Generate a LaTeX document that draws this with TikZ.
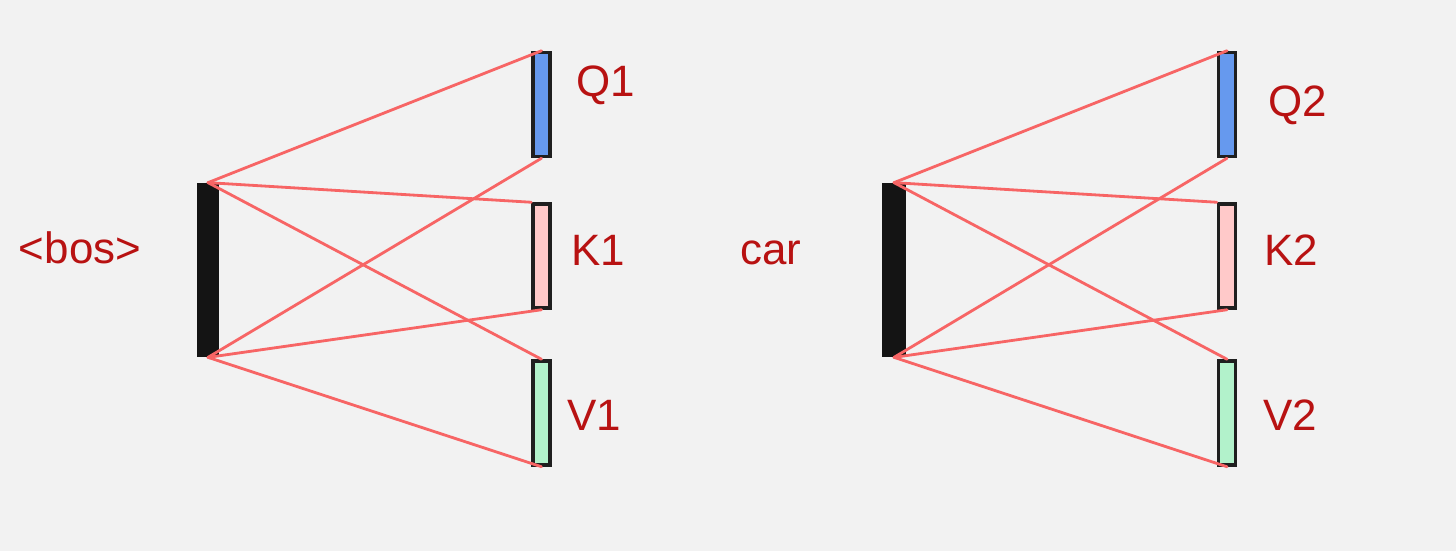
\documentclass[tikz,border=0pt]{standalone}
\usepackage{fontspec}
\setmainfont{Liberation Sans}
\usepackage{xcolor}
\usepackage{tikz}
\definecolor{paper}{HTML}{F2F2F2}
\definecolor{wirered}{HTML}{F76565}
\definecolor{inkred}{HTML}{B81212}
\definecolor{qblue}{HTML}{6699EE}
\definecolor{kpink}{HTML}{FFC9C9}
\definecolor{vgreen}{HTML}{B2F2CB}

\begin{document}
\begin{tikzpicture}[x=0.02cm, y=-0.02cm,
        tokbar/.style={draw=black!92, fill=black!92, line width=1pt,
          minimum width=0.4cm, minimum height=3.46cm, inner sep=0pt},
        vecbox/.style={draw=black!88, line width=2pt,
          minimum width=0.34cm, minimum height=2.08cm, inner sep=0pt},
        wire/.style={draw=wirered, line width=1.6pt, line cap=round},
        lbl/.style={text=inkred, font=\fontsize{25}{29}\selectfont},
      ]
      \fill[paper] (0,0) rectangle (1456,551);
      \useasboundingbox (0,0) rectangle (1456,551);

      % first token
      \node[tokbar] (bos) at (208,270) {};
      \node[vecbox, fill=qblue] (q1) at (541.5,104.5) {};
      \node[vecbox, fill=kpink] (k1) at (541.5,256) {};
      \node[vecbox, fill=vgreen] (v1) at (541.5,413) {};
      \node[lbl] (boslbl) at (80,248) {<bos>};
      \node[lbl] (q1lbl) at (606,85) {Q1};
      \node[lbl] (k1lbl) at (598,250) {K1};
      \node[lbl] (v1lbl) at (594,415) {V1};
      \draw[wire] (bos.north) -- (q1.north);
      \draw[wire] (bos.north) -- (k1.north west);
      \draw[wire] (bos.north) -- (v1.north);
      \draw[wire] (bos.south) -- (q1.south);
      \draw[wire] (bos.south) -- (k1.south);
      \draw[wire] (bos.south) -- (v1.south);

      % second token
      \node[tokbar, minimum width=0.44cm] (car) at (894,270) {};
      \node[vecbox, fill=qblue] (q2) at (1227,104.5) {};
      \node[vecbox, fill=kpink] (k2) at (1227,256) {};
      \node[vecbox, fill=vgreen] (v2) at (1227,413) {};
      \node[lbl] (carlbl) at (771,253) {car};
      \node[lbl] (q2lbl) at (1298,105) {Q2};
      \node[lbl] (k2lbl) at (1291,250) {K2};
      \node[lbl] (v2lbl) at (1290,415) {V2};
      \draw[wire] (car.north) -- (q2.north);
      \draw[wire] (car.north) -- (k2.north west);
      \draw[wire] (car.north) -- (v2.north);
      \draw[wire] (car.south) -- (q2.south);
      \draw[wire] (car.south) -- (k2.south);
      \draw[wire] (car.south) -- (v2.south);
    \end{tikzpicture}
\end{document}
